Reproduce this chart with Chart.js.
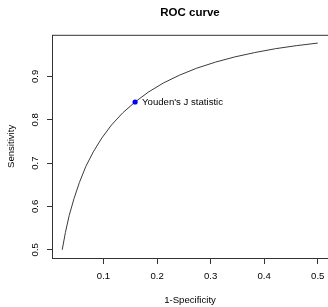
<!DOCTYPE html>
<html>
<head>
<meta charset="utf-8">
<script src="https://cdn.jsdelivr.net/npm/chart.js@4.4.1/dist/chart.umd.min.js"></script>
<style>
  html, body { margin: 0; padding: 0; background: #fff; }
  #wrap { width: 328px; height: 307px; overflow: hidden; }
</style>
</head>
<body>
<div id="wrap"><canvas id="roc" width="332" height="307"></canvas></div>
<script>
// ROC curve (1-specificity vs sensitivity)
const fpr = [0.023, 0.029, 0.036, 0.045, 0.055, 0.067, 0.081, 0.097, 0.115, 0.136, 0.159,
             0.184, 0.212, 0.242, 0.274, 0.309, 0.345, 0.382, 0.421, 0.460, 0.500];
const tpr = [0.500, 0.540, 0.579, 0.618, 0.655, 0.692, 0.726, 0.758, 0.788, 0.816, 0.841,
             0.864, 0.885, 0.903, 0.919, 0.933, 0.945, 0.955, 0.964, 0.971, 0.977];

// best cut-off point
const youdenX = [0.159];
const youdenY = [0.841];
const youdenLabel = "Youden's J statistic";

const xTicks = [0.1, 0.2, 0.3, 0.4, 0.5];
const yTicks = [0.5, 0.6, 0.7, 0.8, 0.9];

const family = '"Liberation Sans", Arial, sans-serif';
const axisColor = '#333';

// R style: 4% extra room around the data
function padRange(vals) {
  const lo = Math.min(...vals), hi = Math.max(...vals);
  const d = (hi - lo) * 0.04;
  return [lo - d, hi + d];
}
const [xMin, xMax] = padRange(fpr);
const [yMin, yMax] = padRange(tpr);

const rFrame = {
  id: 'rFrame',
  afterDatasetsDraw(chart) {
    const { ctx, chartArea: a, scales: { x, y } } = chart;
    ctx.save();
    ctx.strokeStyle = axisColor;
    ctx.lineWidth = 1;
    ctx.strokeRect(a.left + 0.5, a.top + 0.5, a.right - a.left, a.bottom - a.top);

    const px = x.getPixelForValue(youdenX[0]);
    const py = y.getPixelForValue(youdenY[0]);
    ctx.fillStyle = '#000';
    ctx.font = '9.6px ' + family;
    ctx.textBaseline = 'middle';
    ctx.textAlign = 'left';
    ctx.fillText(youdenLabel, px + 7, py + 0.5);
    ctx.restore();
  }
};

new Chart(document.getElementById('roc'), {
  type: 'scatter',
  data: {
    datasets: [
      {
        label: 'Youden',
        data: youdenX.map((v, i) => ({ x: v, y: youdenY[i] })),
        pointRadius: 2.6,
        pointBackgroundColor: '#0000ff',
        pointBorderColor: '#0000ff',
        pointBorderWidth: 0
      },
      {
        label: 'ROC',
        data: fpr.map((v, i) => ({ x: v, y: tpr[i] })),
        showLine: true,
        pointRadius: 0,
        borderColor: '#3a3a3a',
        borderWidth: 1,
        tension: 0
      }
    ]
  },
  options: {
    responsive: false,
    animation: false,
    events: [],
    layout: { padding: { top: 0, left: 0, bottom: 0, right: 3.4 } },
    plugins: {
      legend: { display: false },
      tooltip: { enabled: false },
      title: {
        display: true,
        text: 'ROC curve',
        fullSize: false,
        color: '#000',
        font: { family, size: 11.5, weight: 'bold', lineHeight: 1.2 },
        padding: { top: 6, bottom: 15 }
      }
    },
    scales: {
      x: {
        type: 'linear',
        min: xMin,
        max: xMax,
        afterBuildTicks: s => { s.ticks = xTicks.map(v => ({ value: v })); },
        afterFit: s => { s.height = 49; s.paddingLeft = 0; s.paddingRight = 0; },
        grid: { drawOnChartArea: false, drawTicks: true, tickLength: 6, color: axisColor, lineWidth: 1 },
        border: { display: false },
        ticks: {
          color: '#000', font: { family, size: 9.6 }, padding: 7,
          maxRotation: 0, autoSkip: false, callback: v => String(v)
        },
        title: {
          display: true, text: '1-Specificity', color: '#000',
          font: { family, size: 9.6, lineHeight: 1.2 }, padding: { top: 0, bottom: 1.3 }
        }
      },
      y: {
        type: 'linear',
        min: yMin,
        max: yMax,
        afterBuildTicks: s => { s.ticks = yTicks.map(v => ({ value: v })); },
        afterFit: s => { s.width = 52; s.paddingTop = 0; s.paddingBottom = 0; },
        grid: { drawOnChartArea: false, drawTicks: true, tickLength: 5, color: axisColor, lineWidth: 1 },
        border: { display: false },
        ticks: {
          color: '#000', font: { family, size: 9.6 }, padding: 4.5,
          minRotation: 90, maxRotation: 90, crossAlign: 'center',
          autoSkip: false, callback: v => String(v)
        },
        title: {
          display: true, text: 'Sensitivity', color: '#000',
          font: { family, size: 9.6, lineHeight: 1.2 }, padding: { top: 6, bottom: 0 }
        }
      }
    }
  },
  plugins: [rFrame]
});
</script>
</body>
</html>
